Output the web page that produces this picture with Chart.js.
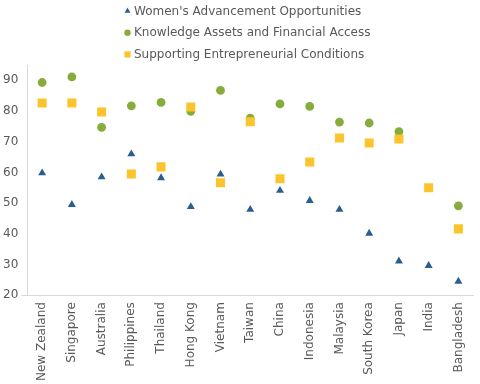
<!DOCTYPE html>
<html>
<head>
<meta charset="utf-8">
<script src="https://cdn.jsdelivr.net/npm/chart.js@4/dist/chart.umd.min.js"></script>
<style>
  html, body { margin: 0; padding: 0; background: #ffffff; }
  #wrap { width: 480px; height: 384px; }
</style>
</head>
<body>
<div id="wrap"><canvas id="c" width="480" height="384"></canvas></div>
<script>
const categories = ["New Zealand", "Singapore", "Australia", "Philippines", "Thailand", "Hong Kong", "Vietnam", "Taiwan", "China", "Indonesia", "Malaysia", "South Korea", "Japan", "India", "Bangladesh"];
const seriesNames = ["Women's Advancement Opportunities", "Knowledge Assets and Financial Access", "Supporting Entrepreneurial Conditions"];
const womenAdvancement = [59.8, 49.5, 58.5, 66.0, 58.2, 48.8, 59.4, 47.9, 54.1, 50.8, 47.9, 40.1, 31.1, 29.6, 24.5];
const knowledgeAssets = [89.3, 91.1, 74.7, 81.7, 82.8, 79.9, 86.7, 77.7, 82.3, 81.5, 76.4, 76.1, 73.3, null, 49.1];
const supportingConditions = [82.6, 82.6, 79.7, 59.5, 61.8, 81.3, 56.6, 76.5, 57.9, 63.4, 71.2, 69.6, 70.9, 55.0, 41.6];
const yTicks = [20, 30, 40, 50, 60, 70, 80, 90];

const textColor = '#595959';
const axisColor = '#d9d9d9';
const fontFamily = '"DejaVu Sans", Verdana, sans-serif';

const legendPlugin = {
  id: 'stackedLegend',
  afterDraw(chart) {
    const ctx = chart.ctx;
    ctx.save();
    ctx.font = '12px ' + fontFamily;
    ctx.textBaseline = 'middle';
    ctx.textAlign = 'left';
    chart.data.datasets.forEach((ds, i) => {
      const y = 11 + i * 21.7;
      const style = {
        pointStyle: ds.pointStyle,
        radius: ds.legendRadius,
        rotation: 0,
        borderWidth: 0
      };
      ctx.fillStyle = ds.backgroundColor;
      ctx.strokeStyle = ds.backgroundColor;
      ctx.lineWidth = 0;
      Chart.helpers.drawPoint(ctx, style, 127.5, y);
      ctx.fillStyle = textColor;
      ctx.fillText(ds.label, 134, y + 0.5);
    });
    ctx.restore();
  }
};

new Chart(document.getElementById('c'), {
  type: 'line',
  data: {
    labels: categories,
    datasets: [
      {
        label: seriesNames[0],
        data: womenAdvancement,
        showLine: false,
        pointStyle: 'triangle',
        pointRadius: 4.6,
        legendRadius: 3.4,
        backgroundColor: '#2B5E8E',
        borderColor: '#2B5E8E',
        pointBorderWidth: 0,
        order: 0
      },
      {
        label: seriesNames[1],
        data: knowledgeAssets,
        showLine: false,
        pointStyle: 'circle',
        pointRadius: 4.4,
        legendRadius: 3.2,
        backgroundColor: '#86AD3B',
        borderColor: '#86AD3B',
        pointBorderWidth: 0,
        order: 2
      },
      {
        label: seriesNames[2],
        data: supportingConditions,
        showLine: false,
        pointStyle: 'rect',
        pointRadius: 6.4,
        legendRadius: 4.4,
        backgroundColor: '#FCC42C',
        borderColor: '#FCC42C',
        pointBorderWidth: 0,
        order: 1
      }
    ]
  },
  options: {
    responsive: false,
    animation: false,
    layout: { padding: { top: 65, right: 1, left: 0, bottom: -4 } },
    plugins: {
      legend: { display: false },
      tooltip: { enabled: false }
    },
    scales: {
      x: {
        offset: true,
        grid: { display: false, drawOnChartArea: false, drawTicks: false },
        border: { display: true, color: axisColor, width: 1 },
        ticks: {
          color: textColor,
          font: { family: fontFamily, size: 12 },
          minRotation: 90,
          maxRotation: 90,
          autoSkip: false,
          padding: 7
        }
      },
      y: {
        min: 20,
        max: 95,
        afterBuildTicks(axis) {
          axis.ticks = yTicks.map(v => ({ value: v }));
        },
        grid: {
          drawOnChartArea: false,
          drawTicks: true,
          tickLength: 6,
          color: (c) => (c.tick && c.tick.value === 20 ? axisColor : 'rgba(0,0,0,0)')
        },
        border: { display: true, color: axisColor, width: 1 },
        ticks: {
          color: textColor,
          font: { family: fontFamily, size: 12 },
          padding: 3
        }
      }
    }
  },
  plugins: [legendPlugin]
});
</script>
</body>
</html>
